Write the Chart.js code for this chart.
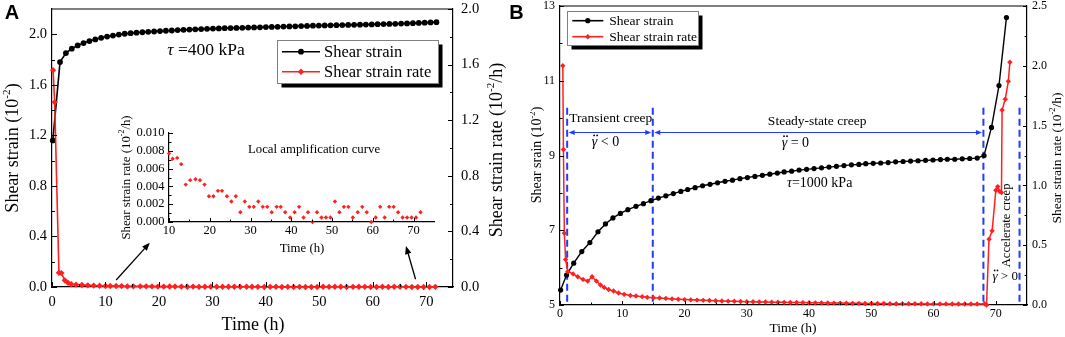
<!DOCTYPE html>
<html>
<head>
<meta charset="utf-8">
<script src="https://cdn.jsdelivr.net/npm/chart.js@4.4.1/dist/chart.umd.min.js"></script>
<style>
html, body { margin: 0; padding: 0; background: #fff; }
#wrap { position: relative; width: 1065px; height: 337px; overflow: hidden; }
canvas { position: absolute; }
</style>
</head>
<body>
<div id="wrap">
  <canvas id="chartA" width="530" height="337" style="left:0;top:0"></canvas>
  <canvas id="chartB" width="535" height="337" style="left:530px;top:0"></canvas>
  <canvas id="inset" width="340" height="165" style="left:110px;top:100px"></canvas>
</div>
<script>
// ------------------------
// DATA - panel A (tau = 400 kPa)
// ------------------------
const strainA_t = [0.15, 1.5, 2.6, 3.7, 4.8, 5.9, 7.0, 8.1, 9.2, 10.3, 11.4, 12.5, 13.6, 14.7, 15.8, 16.9, 18.0, 19.1, 20.2, 21.3,
    22.4, 23.5, 24.6, 25.7, 26.8, 27.9, 29.0, 30.1, 31.2, 32.3, 33.4, 34.5, 35.6, 36.7, 37.8, 38.9, 40.0, 41.1, 42.2, 43.3,
    44.4, 45.5, 46.6, 47.7, 48.8, 49.9, 51.0, 52.1, 53.2, 54.3, 55.4, 56.5, 57.6, 58.7, 59.8, 60.9, 62.0, 63.1, 64.2, 65.3,
    66.4, 67.5, 68.6, 69.7, 70.8, 71.9];
const strainA_v = [1.16, 1.78, 1.851, 1.886, 1.912, 1.930, 1.946, 1.959, 1.972, 1.982, 1.990, 1.998, 2.004, 2.009, 2.013, 2.016, 2.019, 2.022, 2.025, 2.028,
    2.030, 2.033, 2.035, 2.037, 2.039, 2.041, 2.043, 2.045, 2.046, 2.048, 2.049, 2.050, 2.051, 2.053, 2.054, 2.055, 2.057, 2.058, 2.059, 2.061,
    2.062, 2.063, 2.065, 2.066, 2.068, 2.069, 2.070, 2.071, 2.072, 2.073, 2.074, 2.075, 2.076, 2.077, 2.078, 2.080, 2.081, 2.082, 2.083, 2.085,
    2.086, 2.088, 2.090, 2.092, 2.094, 2.096];

// early part of the rate curve (before the inset window)
const rateA_t = [0.2, 0.5, 1.3, 1.75, 2.4, 3.0, 3.6, 4.5, 5.6, 6.7, 7.8, 8.9];
const rateA_v = [1.56, 1.33, 0.103, 0.10, 0.048, 0.030, 0.020, 0.017, 0.014, 0.012, 0.010, 0.009];

// inset "Local amplification curve" (also the tail of the main rate curve)
const insetT = [10.0, 10.9, 12.0, 13.0, 14.1, 15.2, 16.5, 17.6, 18.7, 19.8, 20.9, 22.0, 23.0, 24.2, 25.3, 26.4, 27.5, 28.6, 29.7, 30.8,
    31.9, 33.0, 34.1, 35.2, 36.4, 37.4, 38.5, 39.7, 40.8, 41.9, 43.0, 44.1, 45.2, 46.3, 47.4, 48.5, 49.6, 50.7, 51.8, 52.9,
    54.0, 55.1, 56.3, 57.4, 58.5, 59.6, 60.7, 61.8, 62.9, 64.0, 65.1, 66.2, 67.3, 68.4, 69.5, 70.6, 71.7];
const insetV = [0.0077, 0.0071, 0.0072, 0.0065, 0.0042, 0.0047, 0.0048, 0.0047, 0.0042, 0.0029, 0.0029, 0.0035, 0.0035, 0.0029, 0.0023, 0.0029, 0.0011, 0.0023, 0.0017, 0.0017,
    0.0023, 0.0017, 0.0017, 0.0011, 0.0017, 0.0017, 0.0011, 0.0005, 0.0011, 0.0017, 0.0005, 0.0011, 0.0000, 0.0011, 0.0005, 0.0005, 0.0005, 0.0023, 0.0011, 0.0017,
    0.0017, 0.0005, 0.0011, 0.0017, 0.0011, 0.0000, 0.0005, 0.0017, 0.0005, 0.0017, 0.0017, 0.0011, 0.0005, 0.0005, 0.0005, 0.0005, 0.0011];

const ticksA_x = [0, 10, 20, 30, 40, 50, 60, 70];
const ticksA_y = [0, 0.4, 0.8, 1.2, 1.6, 2.0];
const ticksA_y1 = [0, 0.4, 0.8, 1.2, 1.6, 2.0];
const ticksInset_x = [10, 20, 30, 40, 50, 60, 70];
const ticksInset_y = [0, 0.002, 0.004, 0.006, 0.008, 0.010];

// ------------------------
// DATA - panel B (tau = 1000 kPa)
// ------------------------
const strainB_t = [0.1, 1.05, 2.2, 3.5, 4.8, 6.1, 7.3, 8.5, 9.7, 10.9, 12.2, 13.4, 14.6, 15.8, 17.0, 18.2, 19.4, 20.5, 21.7, 22.9,
    24.1, 25.3, 26.5, 27.7, 28.9, 30.1, 31.3, 32.5, 33.7, 34.9, 36.0, 37.2, 38.4, 39.6, 40.8, 42.0, 43.2, 44.4, 45.6, 46.8,
    48.0, 49.1, 50.3, 51.5, 52.7, 53.9, 55.1, 56.3, 57.5, 58.7, 59.9, 61.1, 62.2, 63.4, 64.6, 65.8, 67.0, 68.1, 69.3, 70.5, 71.7];
const strainB_v = [5.40, 5.80, 6.12, 6.43, 6.67, 6.96, 7.17, 7.33, 7.45, 7.55, 7.64, 7.71, 7.79, 7.86, 7.92, 7.98, 8.04, 8.09, 8.14, 8.19,
    8.23, 8.27, 8.31, 8.34, 8.38, 8.41, 8.44, 8.47, 8.50, 8.53, 8.56, 8.58, 8.61, 8.63, 8.65, 8.67, 8.69, 8.71, 8.73, 8.75,
    8.76, 8.78, 8.79, 8.80, 8.81, 8.83, 8.84, 8.85, 8.86, 8.87, 8.88, 8.89, 8.90, 8.90, 8.91, 8.92, 8.93, 9.00, 9.75, 10.87, 12.69];

const rateB_t = [0.45, 0.55, 0.7, 0.9, 1.25, 2.1, 2.85, 3.7, 4.45, 5.15, 5.85, 6.5, 7.1, 7.8, 8.6, 9.4, 10.3, 11.3, 12.2, 13.2, 14.0,
    15, 16, 17, 18, 19, 20, 21, 22, 23, 24, 25, 26, 27, 28, 29, 30, 31, 32, 33, 34, 35, 36, 37, 38, 39, 40,
    41, 42, 43, 44, 45, 46, 47, 48, 49, 50, 51, 52, 53, 54, 55, 56, 57, 58, 59, 60, 61, 62, 63, 64, 65, 66, 67,
    68.2, 68.5, 68.9, 69.4, 70.0, 70.3, 70.6, 70.9, 71.0, 71.5, 72.0, 72.25];
const rateB_v = [2.00, 1.30, 0.60, 0.38, 0.28, 0.26, 0.236, 0.214, 0.20, 0.236, 0.20, 0.167, 0.147, 0.13, 0.117, 0.10, 0.089, 0.080, 0.075, 0.070, 0.064,
    0.061, 0.058, 0.055, 0.051, 0.048, 0.045, 0.043, 0.041, 0.039, 0.037, 0.036, 0.034, 0.032, 0.031, 0.029, 0.028, 0.027, 0.026, 0.025, 0.024, 0.023, 0.022, 0.021, 0.021, 0.020, 0.019,
    0.018, 0.018, 0.017, 0.016, 0.016, 0.015, 0.014, 0.014, 0.013, 0.013, 0.012, 0.012, 0.011, 0.011, 0.011, 0.010, 0.010, 0.010, 0.009, 0.009, 0.009, 0.009, 0.008, 0.008, 0.008, 0.008, 0.008,
    0.010, 0.0, 0.55, 0.62, 0.96, 0.99, 0.95, 0.94, 1.63, 1.72, 1.87, 2.03];

const ticksB_x = [0, 10, 20, 30, 40, 50, 60, 70];
const ticksB_y = [5, 7, 9, 11, 13];
const ticksB_y1 = [0, 0.5, 1.0, 1.5, 2.0, 2.5];

// creep stage boundaries (h) and arrow spans
const phaseT = [1.15, 14.9, 68.0, 73.8];
const phaseSpans = [[1.15, 14.9], [14.9, 68.0]];

// ------------------------
// STYLE HELPERS
// ------------------------
const SERIF = "'Liberation Serif', 'Times New Roman', serif";
const RED = '#ff2020';
const BLUE = '#1f3cff';

const toPts = (xs, ys) => xs.map((x, i) => ({ x, y: ys[i] }));

function axis(pos, min, max, ticks, fmt, size, pad, fit) {
    return {
        type: 'linear',
        position: pos,
        min, max,
        grid: { display: false, drawTicks: false },
        border: { display: true, color: '#000', width: 1.2 },
        afterBuildTicks: s => { s.ticks = ticks.map(v => ({ value: v })); },
        afterFit: s => {
            if (pos === 'bottom') s.height = fit; else s.width = fit;
            s.paddingTop = s.paddingBottom = s.paddingLeft = s.paddingRight = 0;
        },
        ticks: {
            color: '#000', padding: pad, maxRotation: 0, autoSkip: false,
            font: { family: SERIF, size },
            callback: v => fmt(v)
        }
    };
}

// text made of parts: n normal, i italic, s superscript, g italic gamma with two dots
function richText(ctx, parts, x, y, size, rot) {
    ctx.save();
    ctx.translate(x, y);
    if (rot) ctx.rotate(rot);
    ctx.fillStyle = '#000';
    ctx.textBaseline = 'middle';
    ctx.textAlign = 'left';
    const setFont = k => {
        ctx.font = (k === 'i' || k === 'g' ? 'italic ' : '') + (k === 's' ? size * 0.62 : size) + 'px ' + SERIF;
    };
    let w = 0;
    parts.forEach(([t, k]) => { setFont(k); w += ctx.measureText(t).width; });
    let cx = -w / 2;
    parts.forEach(([t, k]) => {
        setFont(k);
        const tw = ctx.measureText(t).width;
        ctx.fillText(t, cx, k === 's' ? -size * 0.33 : 0);
        if (k === 'g') {
            [0.3, 0.85].forEach(f => {
                ctx.beginPath();
                ctx.arc(cx + tw * f + size * 0.05, -size * 0.5, size * 0.065, 0, Math.PI * 2);
                ctx.fill();
            });
        }
        cx += tw;
    });
    ctx.restore();
}

function inTicks(chart, id, len, minorLen) {
    const s = chart.scales[id], a = chart.chartArea, ctx = chart.ctx;
    const vals = s.ticks.map(t => t.value);
    const step = vals[1] - vals[0];
    const minors = [];
    vals.forEach(v => { if (v + step / 2 < s.max - 1e-9) minors.push(v + step / 2); });
    if (vals[0] - step / 2 > s.min + 1e-9) minors.push(vals[0] - step / 2);
    ctx.save();
    ctx.strokeStyle = '#000';
    ctx.lineWidth = 1;
    const draw = (v, l) => {
        const p = Math.round(s.getPixelForValue(v)) + 0.5;
        ctx.beginPath();
        if (s.axis === 'x') { ctx.moveTo(p, a.bottom); ctx.lineTo(p, a.bottom - l); }
        else if (s.position === 'left') { ctx.moveTo(a.left, p); ctx.lineTo(a.left + l, p); }
        else { ctx.moveTo(a.right, p); ctx.lineTo(a.right - l, p); }
        ctx.stroke();
    };
    vals.forEach(v => draw(v, len));
    minors.forEach(v => draw(v, minorLen));
    ctx.restore();
}

function frameTop(ctx, a) {
    ctx.save();
    ctx.strokeStyle = '#000';
    ctx.lineWidth = 1.2;
    ctx.beginPath();
    ctx.moveTo(a.left, a.top);
    ctx.lineTo(a.right, a.top);
    ctx.stroke();
    ctx.restore();
}

function arrowHead(ctx, x0, y0, x1, y1, len, wid) {
    const ang = Math.atan2(y1 - y0, x1 - x0);
    const c = Math.cos(ang), s = Math.sin(ang);
    ctx.beginPath();
    ctx.moveTo(x1, y1);
    ctx.lineTo(x1 - len * c + wid * s, y1 - len * s - wid * c);
    ctx.lineTo(x1 - len * c - wid * s, y1 - len * s + wid * c);
    ctx.closePath();
    ctx.fill();
}

function drawLegend(chart, L) {
    const ctx = chart.ctx;
    ctx.save();
    ctx.fillStyle = '#000';
    ctx.fillRect(L.x + L.sh, L.y + L.sh, L.w, L.h);
    ctx.fillStyle = '#fff';
    ctx.fillRect(L.x, L.y, L.w, L.h);
    ctx.strokeStyle = '#808080';
    ctx.lineWidth = 1;
    ctx.strokeRect(L.x + 0.5, L.y + 0.5, L.w, L.h);
    chart.data.datasets.forEach((ds, i) => {
        const y = L.rows[i];
        ctx.strokeStyle = ds.borderColor;
        ctx.lineWidth = 1.6;
        ctx.beginPath();
        ctx.moveTo(L.x0, y);
        ctx.lineTo(L.x1, y);
        ctx.stroke();
        ctx.fillStyle = ds.backgroundColor;
        Chart.helpers.drawPoint(ctx, { pointStyle: ds.pointStyle, radius: ds.pointRadius, borderWidth: 0, rotation: 0 },
            (L.x0 + L.x1) / 2, y);
        ctx.fillStyle = '#000';
        ctx.font = L.size + 'px ' + SERIF;
        ctx.textBaseline = 'middle';
        ctx.textAlign = 'left';
        ctx.fillText(ds.label, L.tx, y + 1);
    });
    ctx.restore();
}

// ------------------------
// PANEL A
// ------------------------
const arrowsA = [{ x0: 12.0, y0: 0.055, x1: 18.3, y1: 0.35 }, { x0: 68.0, y0: 0.061, x1: 66.2, y1: 0.324 }];

const decorA = {
    id: 'decorA',
    afterDraw(chart) {
        const ctx = chart.ctx, a = chart.chartArea, sx = chart.scales.x, sy = chart.scales.y;
        frameTop(ctx, a);
        inTicks(chart, 'x', 5, 3);
        inTicks(chart, 'y', 5, 3);
        inTicks(chart, 'y1', 5, 3);

        ctx.save();
        ctx.strokeStyle = '#000';
        ctx.fillStyle = '#000';
        ctx.lineWidth = 1.3;
        arrowsA.forEach(r => {
            const x0 = sx.getPixelForValue(r.x0), y0 = sy.getPixelForValue(r.y0);
            const x1 = sx.getPixelForValue(r.x1), y1 = sy.getPixelForValue(r.y1);
            ctx.beginPath();
            ctx.moveTo(x0, y0);
            ctx.lineTo(x0 + (x1 - x0) * 0.85, y0 + (y1 - y0) * 0.85);
            ctx.stroke();
            arrowHead(ctx, x0, y0, x1, y1, 8, 3.2);
        });
        ctx.restore();

        richText(ctx, [['Shear strain (10', 'n'], ['-2', 's'], [')', 'n']], 13, 148, 18, -Math.PI / 2);
        richText(ctx, [['Shear strain rate (10', 'n'], ['-2', 's'], ['/h)', 'n']], 497, 150, 18, -Math.PI / 2);
        richText(ctx, [['Time (h)', 'n']], 253, 325, 18);
        richText(ctx, [['τ', 'i'], [' =400 kPa', 'n']], 206, 50, 17.5);

        drawLegend(chart, { x: 277, y: 40, w: 161, h: 43, sh: 4.5, rows: [51.7, 71.7], x0: 282, x1: 320, tx: 324, size: 16.5 });

        ctx.save();
        ctx.fillStyle = '#000';
        ctx.font = "bold 20px 'Liberation Sans', Arial, sans-serif";
        ctx.textAlign = 'center';
        ctx.textBaseline = 'middle';
        ctx.fillText('A', 12, 13);
        ctx.fillText('B', 516.5, 13);
        ctx.restore();
    }
};

new Chart(document.getElementById('chartA'), {
    type: 'line',
    data: {
        datasets: [
            {
                label: 'Shear strain', data: toPts(strainA_t, strainA_v), yAxisID: 'y',
                borderColor: '#000', backgroundColor: '#000', borderWidth: 1.6,
                pointStyle: 'circle', pointRadius: 2.9, pointBorderWidth: 0, tension: 0, clip: false, order: 1
            },
            {
                label: 'Shear strain rate', data: toPts(rateA_t.concat(insetT), rateA_v.concat(insetV)), yAxisID: 'y1',
                borderColor: RED, backgroundColor: RED, borderWidth: 1.6,
                pointStyle: 'rectRot', pointRadius: 3.2, pointBorderWidth: 0, tension: 0, clip: false, order: 0
            }
        ]
    },
    options: {
        responsive: false, animation: false, events: [],
        layout: { padding: { top: 9, left: 0, right: 0, bottom: 0 } },
        plugins: { legend: { display: false }, tooltip: { enabled: false } },
        scales: {
            x: axis('bottom', 0, 75, ticksA_x, v => String(v), 14.5, 6, 50),
            y: axis('left', 0, 2.2, ticksA_y, v => v.toFixed(1), 14.5, 5, 52),
            y1: axis('right', 0, 2.0, ticksA_y1, v => v.toFixed(1), 14.5, 8, 77)
        }
    },
    plugins: [decorA]
});

// ------------------------
// INSET
// ------------------------
const decorInset = {
    id: 'decorInset',
    afterDraw(chart) {
        const ctx = chart.ctx;
        inTicks(chart, 'x', 4, 2.5);
        inTicks(chart, 'y', 4, 2.5);
        richText(ctx, [['Local amplification curve', 'n']], 204, 49.5, 12.8);
        richText(ctx, [['Shear strain rate (10', 'n'], ['-2', 's'], ['/h)', 'n']], 16.5, 77.5, 12.8, -Math.PI / 2);
        richText(ctx, [['Time (h)', 'n']], 192, 148.5, 12.8);
    }
};

new Chart(document.getElementById('inset'), {
    type: 'scatter',
    data: {
        datasets: [{
            label: 'Local amplification curve', data: toPts(insetT, insetV),
            showLine: false, pointStyle: 'rectRot', pointRadius: 2.2, pointBorderWidth: 0,
            backgroundColor: RED, borderColor: RED, clip: false
        }]
    },
    options: {
        responsive: false, animation: false, events: [],
        layout: { padding: { top: 33, left: 0, right: 16, bottom: 0 } },
        plugins: { legend: { display: false }, tooltip: { enabled: false } },
        scales: {
            x: axis('bottom', 10, 75, ticksInset_x, v => String(v), 12.5, 1.5, 43),
            y: axis('left', 0, 0.010, ticksInset_y, v => v.toFixed(3), 12.5, 4.5, 59)
        }
    },
    plugins: [decorInset]
});

// ------------------------
// PANEL B
// ------------------------
const labelsB = [
    { t: 8.16, v: 9.98, parts: [['Transient creep', 'n']], size: 13.5 },
    { t: 41.3, v: 9.91, parts: [['Steady-state creep', 'n']], size: 13.5 },
    { t: 7.3, v: 9.35, parts: [['γ', 'g'], [' < 0', 'n']], size: 14 },
    { t: 37.8, v: 9.33, parts: [['γ', 'g'], [' = 0', 'n']], size: 14 },
    { t: 41.7, v: 8.26, parts: [['τ', 'i'], ['=1000 kPa', 'n']], size: 14 },
    { t: 71.8, v: 7.13, parts: [['Accelerate creep', 'n']], size: 12.5, rot: -Math.PI / 2 },
    { t: 71.5, v: 5.75, parts: [['γ', 'g'], [' > 0', 'n']], size: 13 }
];

const decorB = {
    id: 'decorB',
    beforeDatasetsDraw(chart) {
        const ctx = chart.ctx, a = chart.chartArea, sx = chart.scales.x, sy = chart.scales.y;
        ctx.save();
        ctx.strokeStyle = BLUE;
        ctx.lineWidth = 2;
        ctx.setLineDash([7, 4]);
        phaseT.forEach(t => {
            const x = sx.getPixelForValue(t);
            ctx.beginPath();
            ctx.moveTo(x, sy.getPixelForValue(10.28));
            ctx.lineTo(x, a.bottom);
            ctx.stroke();
        });
        ctx.setLineDash([]);
        ctx.lineWidth = 1;
        ctx.fillStyle = BLUE;
        const yA = Math.round(sy.getPixelForValue(9.62)) + 0.5;
        phaseSpans.forEach(([t0, t1]) => {
            const x0 = sx.getPixelForValue(t0) + 1.5, x1 = sx.getPixelForValue(t1) - 1.5;
            ctx.beginPath();
            ctx.moveTo(x0 + 4, yA);
            ctx.lineTo(x1 - 4, yA);
            ctx.stroke();
            arrowHead(ctx, x1, yA, x0, yA, 6, 2.6);
            arrowHead(ctx, x0, yA, x1, yA, 6, 2.6);
        });
        ctx.restore();
    },
    afterDraw(chart) {
        const ctx = chart.ctx, a = chart.chartArea, sx = chart.scales.x, sy = chart.scales.y;
        frameTop(ctx, a);
        inTicks(chart, 'x', 4, 2.5);
        inTicks(chart, 'y', 4, 2.5);
        inTicks(chart, 'y1', 4, 2.5);
        labelsB.forEach(l => richText(ctx, l.parts, sx.getPixelForValue(l.t), sy.getPixelForValue(l.v), l.size, l.rot));
        richText(ctx, [['Shear srain (10', 'n'], ['-2', 's'], [')', 'n']], 7.5, 155, 14, -Math.PI / 2);
        richText(ctx, [['Shear strain rate (10', 'n'], ['-2', 's'], ['/h)', 'n']], 527, 158, 13.5, -Math.PI / 2);
        richText(ctx, [['Time (h)', 'n']], 263, 328, 13.5);
        drawLegend(chart, { x: 37, y: 11, w: 131, h: 34, sh: 4.5, rows: [20.7, 36.7], x0: 42.3, x1: 73.3, tx: 79.3, size: 13.5 });
    }
};

new Chart(document.getElementById('chartB'), {
    type: 'line',
    data: {
        datasets: [
            {
                label: 'Shear strain', data: toPts(strainB_t, strainB_v), yAxisID: 'y',
                borderColor: '#000', backgroundColor: '#000', borderWidth: 1.4,
                pointStyle: 'circle', pointRadius: 2.6, pointBorderWidth: 0, tension: 0, clip: false, order: 1
            },
            {
                label: 'Shear strain rate', data: toPts(rateB_t, rateB_v), yAxisID: 'y1',
                borderColor: RED, backgroundColor: RED, borderWidth: 1.5,
                pointStyle: 'rectRot', pointRadius: 2.7, pointBorderWidth: 0, tension: 0, clip: false, order: 0
            }
        ]
    },
    options: {
        responsive: false, animation: false, events: [],
        layout: { padding: { top: 6, left: 0, right: 0, bottom: 0 } },
        plugins: { legend: { display: false }, tooltip: { enabled: false } },
        scales: {
            x: axis('bottom', 0, 75, ticksB_x, v => String(v), 12, 1.5, 32),
            y: axis('left', 5, 13, ticksB_y, v => String(v), 12, 5, 30),
            y1: axis('right', 0, 2.5, ticksB_y1, v => v.toFixed(1), 12, 5, 38)
        }
    },
    plugins: [decorB]
});
</script>
</body>
</html>
